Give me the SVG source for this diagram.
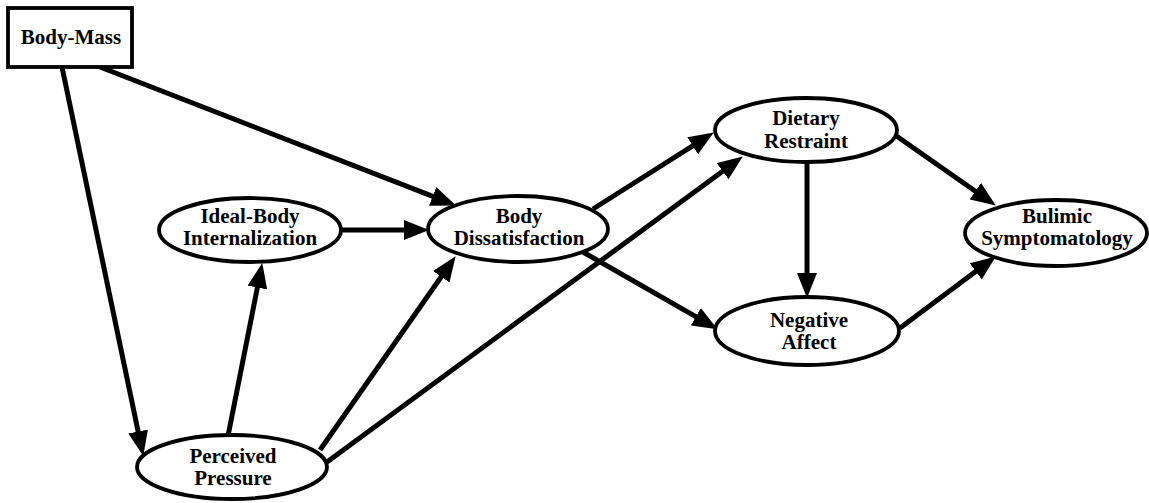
<svg xmlns="http://www.w3.org/2000/svg" width="1149" height="503" viewBox="0 0 1149 503">
<style>
.node{fill:#fff;stroke:#000;stroke-width:3.8}
.lbl{font-family:"Liberation Serif","Times New Roman",serif;font-weight:bold;font-size:21px;fill:#000;text-anchor:middle}
.edge{stroke:#000;stroke-width:5;fill:none;marker-end:url(#ah)}
</style>
<defs>
<marker id="ah" markerUnits="userSpaceOnUse" viewBox="0 0 25 20" refX="14" refY="10" markerWidth="25" markerHeight="20" orient="auto">
<path d="M0,0 L25,10 L0,20 Z" fill="#000"/>
</marker>
</defs>
<rect width="1149" height="503" fill="#fff"/>
<g id="connectors">
<line class="edge" x1="100" y1="67" x2="445.7" y2="201.4"/>
<line class="edge" x1="62" y1="67" x2="141" y2="445.2"/>
<line class="edge" x1="342" y1="230" x2="418" y2="230"/>
<line class="edge" x1="228" y1="436" x2="260.1" y2="273.8"/>
<line class="edge" x1="320" y1="450" x2="449.3" y2="265.2"/>
<line class="edge" x1="327" y1="462" x2="733.9" y2="162.9"/>
<line class="edge" x1="593" y1="209" x2="704.5" y2="138.3"/>
<line class="edge" x1="583" y1="252" x2="708" y2="323.7"/>
<line class="edge" x1="807" y1="162" x2="807" y2="287"/>
<line class="edge" x1="895" y1="135" x2="986.8" y2="199.3"/>
<line class="edge" x1="900" y1="328" x2="987" y2="263"/>
</g>
<g id="body-mass">
<rect class="node" x="8" y="8" width="124" height="59"/>
<text class="lbl" x="71" y="44">Body-Mass</text>
</g>
<g id="ideal-body">
<ellipse class="node" cx="250" cy="230" rx="91" ry="32"/>
<text class="lbl" x="250" y="223">Ideal-Body</text>
<text class="lbl" x="250" y="245">Internalization</text>
</g>
<g id="body-dissatisfaction">
<ellipse class="node" cx="518" cy="229" rx="90" ry="33"/>
<text class="lbl" x="519" y="223">Body</text>
<text class="lbl" x="519" y="245">Dissatisfaction</text>
</g>
<g id="dietary-restraint">
<ellipse class="node" cx="806" cy="130" rx="91" ry="32"/>
<text class="lbl" x="806" y="125">Dietary</text>
<text class="lbl" x="806" y="148">Restraint</text>
</g>
<g id="negative-affect">
<ellipse class="node" cx="807" cy="331" rx="92" ry="34"/>
<text class="lbl" x="809" y="327">Negative</text>
<text class="lbl" x="809" y="349">Affect</text>
</g>
<g id="bulimic-symptomatology">
<ellipse class="node" cx="1056" cy="233" rx="91" ry="33"/>
<text class="lbl" x="1057" y="223">Bulimic</text>
<text class="lbl" x="1057" y="245">Symptomatology</text>
</g>
<g id="perceived-pressure">
<ellipse class="node" cx="232" cy="467" rx="95" ry="32"/>
<text class="lbl" x="233" y="463">Perceived</text>
<text class="lbl" x="233" y="485">Pressure</text>
</g>
</svg>
